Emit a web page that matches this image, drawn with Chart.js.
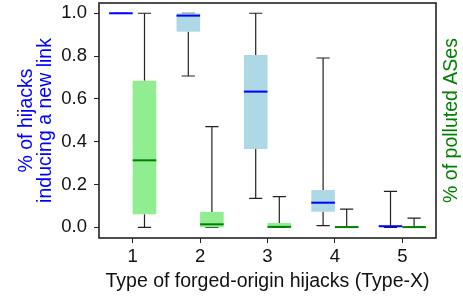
<!DOCTYPE html>
<html>
<head>
    <meta charset="UTF-8">
    <title>Forged-origin hijacks</title>
    <script src="https://cdn.jsdelivr.net/npm/chart.js@4.4.0/dist/chart.umd.min.js"></script>
    <style>
        html, body { margin: 0; padding: 0; background: #fff; }
    </style>
</head>
<body>

<canvas id="boxChart" width="463" height="296"></canvas>

<script>
    // categories + ticks
    var types = ['1', '2', '3', '4', '5'];
    var yTicks = [0.0, 0.2, 0.4, 0.6, 0.8, 1.0];

    // % of hijacks inducing a new link (blue boxes)
    var linkMin = [1.0, 0.707, 0.135, 0.008, 0.0];
    var linkQ1  = [0.998, 0.914, 0.366, 0.073, 0.0];
    var linkMed = [1.0, 0.989, 0.634, 0.115, 0.005];
    var linkQ3  = [1.0, 1.0, 0.805, 0.174, 0.007];
    var linkMax = [1.0, 1.0, 1.0, 0.791, 0.168];

    // % of polluted ASes (green boxes)
    var pollMin = [0.0, 0.0, 0.0, 0.0, 0.0];
    var pollQ1  = [0.061, 0.0, 0.0, 0.0, 0.0];
    var pollMed = [0.313, 0.014, 0.002, 0.001, 0.001];
    var pollQ3  = [0.685, 0.072, 0.020, 0.004, 0.002];
    var pollMax = [1.0, 0.470, 0.143, 0.085, 0.043];

    var FONT = 'Liberation Sans, Arial, sans-serif';

    // box stats per dataset, used by the plugin below
    var stats = [
        {min: linkMin, med: linkMed, max: linkMax, q1: linkQ1, q3: linkQ3, medColor: '#0000ff'},
        {min: pollMin, med: pollMed, max: pollMax, q1: pollQ1, q3: pollQ3, medColor: '#008000'}
    ];

    function boxRange(q1, q3) {
        return q1.map(function (v, i) { return [v, q3[i]]; });
    }

    // whiskers before the boxes, medians + frame after
    var boxPlugin = {
        id: 'boxPlugin',
        beforeDatasetsDraw: function (chart) {
            var ctx = chart.ctx;
            ctx.save();
            ctx.strokeStyle = '#222';
            ctx.lineWidth = 1.2;
            stats.forEach(function (s, di) {
                var meta = chart.getDatasetMeta(di);
                var sc = chart.scales[meta.yAxisID];
                meta.data.forEach(function (el, i) {
                    var cap = el.width * 0.28;
                    var yMax = sc.getPixelForValue(s.max[i]);
                    var yMin = sc.getPixelForValue(s.min[i]);
                    var yQ1 = sc.getPixelForValue(s.q1[i]);
                    var yQ3 = sc.getPixelForValue(s.q3[i]);
                    ctx.beginPath();
                    ctx.moveTo(el.x, yQ3); ctx.lineTo(el.x, yMax);
                    ctx.moveTo(el.x - cap, yMax); ctx.lineTo(el.x + cap, yMax);
                    ctx.moveTo(el.x, yQ1); ctx.lineTo(el.x, yMin);
                    ctx.moveTo(el.x - cap, yMin); ctx.lineTo(el.x + cap, yMin);
                    ctx.stroke();
                });
            });
            ctx.restore();
        },
        afterDatasetsDraw: function (chart) {
            var ctx = chart.ctx;
            ctx.save();
            ctx.lineWidth = 2;
            stats.forEach(function (s, di) {
                var meta = chart.getDatasetMeta(di);
                var sc = chart.scales[meta.yAxisID];
                ctx.strokeStyle = s.medColor;
                meta.data.forEach(function (el, i) {
                    var y = sc.getPixelForValue(s.med[i]);
                    ctx.beginPath();
                    ctx.moveTo(el.x - el.width / 2, y);
                    ctx.lineTo(el.x + el.width / 2, y);
                    ctx.stroke();
                });
            });
            var a = chart.chartArea;
            ctx.strokeStyle = '#222';
            ctx.lineWidth = 1.6;
            ctx.strokeRect(a.left, a.top, a.right - a.left, a.bottom - a.top);
            ctx.restore();
        },
        afterDraw: function (chart) {
            // right axis title reads bottom to top, as on the left
            var ctx = chart.ctx;
            var a = chart.chartArea;
            ctx.save();
            ctx.translate(452, (a.top + a.bottom) / 2);
            ctx.rotate(-Math.PI / 2);
            ctx.fillStyle = '#008000';
            ctx.font = '19.5px ' + FONT;
            ctx.textAlign = 'center';
            ctx.textBaseline = 'middle';
            ctx.fillText('% of polluted ASes', 0, 0);
            ctx.restore();
        }
    };

    var ctx = document.getElementById('boxChart').getContext('2d');
    var boxChart = new Chart(ctx, {
        type: 'bar',
        data: {
            labels: types,
            datasets: [{
                label: '% of hijacks inducing a new link',
                data: boxRange(linkQ1, linkQ3),
                backgroundColor: '#add8e6',
                borderWidth: 0,
                yAxisID: 'y'
            }, {
                label: '% of polluted ASes',
                data: boxRange(pollQ1, pollQ3),
                backgroundColor: '#90ee90',
                borderWidth: 0,
                yAxisID: 'y1'
            }]
        },
        options: {
            responsive: false,
            animation: false,
            devicePixelRatio: 1,
            categoryPercentage: 0.70,
            barPercentage: 1.0,
            layout: {padding: {top: 3, left: 0, right: 0, bottom: 0}},
            plugins: {legend: {display: false}, tooltip: {enabled: false}},
            scales: {
                x: {
                    offset: true,
                    grid: {display: true, drawOnChartArea: false, offset: false, tickLength: 5, color: '#222'},
                    border: {display: false},
                    ticks: {color: '#111', font: {family: FONT, size: 18.5}, padding: 3},
                    title: {
                        display: true,
                        text: 'Type of forged-origin hijacks (Type-X)',
                        color: '#111',
                        font: {family: FONT, size: 19.5},
                        padding: {top: 0, bottom: 3}
                    },
                    afterFit: function (s) {
                        s.height = 58;
                        s.paddingLeft = 0;
                        s.paddingRight = 0;
                    }
                },
                y: {
                    position: 'left',
                    min: -0.05,
                    max: 1.048,
                    afterBuildTicks: function (s) {
                        s.ticks = yTicks.map(function (v) { return {value: v}; });
                    },
                    grid: {display: true, drawOnChartArea: false, tickLength: 5, color: '#222'},
                    border: {display: false},
                    ticks: {
                        color: '#111',
                        font: {family: FONT, size: 18.5},
                        padding: 7,
                        callback: function (v) { return v.toFixed(1); }
                    },
                    title: {
                        display: true,
                        text: ['% of hijacks', 'inducing a new link'],
                        color: '#0000ff',
                        font: {family: FONT, size: 19.5, lineHeight: 0.93},
                        padding: {top: 18, bottom: 0}
                    },
                    afterFit: function (s) {
                        s.width = 99;
                        s.paddingTop = 0;
                        s.paddingBottom = 0;
                    }
                },
                y1: {
                    position: 'right',
                    min: -0.05,
                    max: 1.048,
                    grid: {display: false},
                    border: {display: false},
                    ticks: {display: false},
                    afterFit: function (s) {
                        s.width = 27;
                        s.paddingTop = 0;
                        s.paddingBottom = 0;
                    }
                }
            }
        },
        plugins: [boxPlugin]
    });
</script>

</body>
</html>
